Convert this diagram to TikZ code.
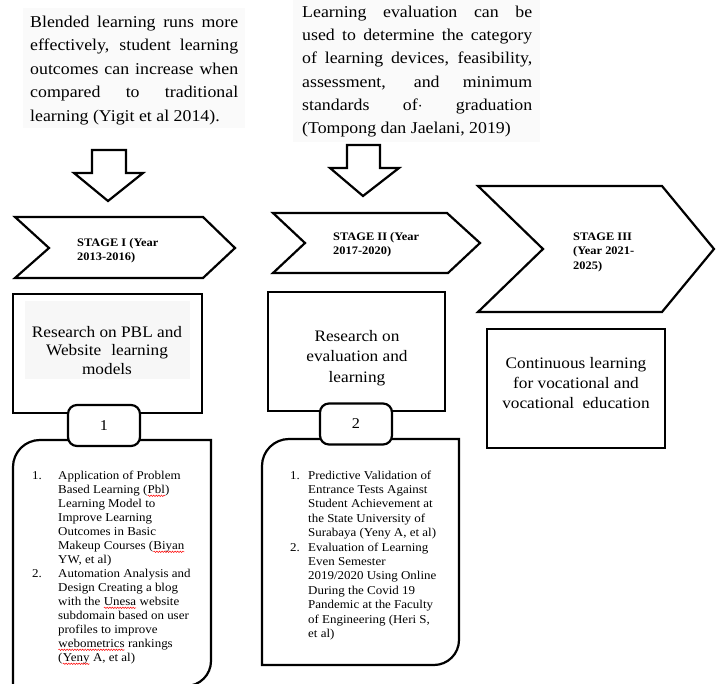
\documentclass[tikz,border=0pt]{standalone}
\usepackage{fontspec}
\setmainfont{Liberation Serif}[FakeStretch=1.08]
\usetikzlibrary{decorations.pathmorphing}
\newcommand\redsq[1]{\tikz[baseline=(w.base),x=1pt,y=1pt]{\node[inner sep=0pt,outer sep=0pt] (w) {#1};
  \draw[red, line width=0.5pt, decorate, decoration={snake, amplitude=0.7pt, segment length=2.6pt}]
    ([yshift=-2.6pt]w.base west) -- ([yshift=-2.6pt]w.base east);}}
\newcommand\indA{\hspace*{26pt}}
\newcommand\indB{\hspace*{18pt}}
\tikzset{
  shp/.style={draw=black, line width=2.2pt, line join=miter, fill=white},
  boxshape/.style={draw=black, line width=2.2pt, fill=white, inner sep=0pt},
  numbox/.style={draw=black, line width=2.2pt, fill=white, rounded corners=9pt,
    minimum width=72pt, minimum height=41pt, inner sep=0pt,
    font=\fontsize{15}{15}\selectfont},
  toptext/.style={inner sep=0pt, align=left},
  stagetxt/.style={inner sep=0pt, align=left, font=\bfseries\fontsize{11.5}{14.5}\selectfont},
  boxtext/.style={inner sep=0pt, align=center},
  listtext/.style={inner sep=0pt, align=left},
}
\begin{document}
\begin{tikzpicture}[x=1pt,y=-1pt]
\useasboundingbox (0,0) rectangle (716,684);
\fill[white] (0,0) rectangle (716,684);

% faint text backgrounds
\fill[black!2] (23,8) rectangle (245,128);
\fill[black!2] (293,0) rectangle (540,142);

% top texts
\node[toptext, anchor=north west, font=\fontsize{16.5}{23.5}\selectfont] (t1) at (30,15) {%
\rule{0pt}{12pt}\makebox[208pt][s]{Blended learning runs more}\\
\makebox[208pt][s]{effectively, student learning}\\
\makebox[208pt][s]{outcomes can increase when}\\
\makebox[208pt][s]{compared to traditional}\\
learning (Yigit et al 2014).};

\node[toptext, anchor=north west, font=\fontsize{16.5}{23.3}\selectfont] (t2) at (302,5) {%
\rule{0pt}{12pt}\makebox[230pt][s]{Learning evaluation can be}\\
\makebox[230pt][s]{used to determine the category}\\
\makebox[230pt][s]{of learning devices, feasibility,}\\
\makebox[230pt][s]{assessment, and minimum}\\
\makebox[230pt][s]{standards of$\cdot$ graduation}\\
(Tompong dan Jaelani, 2019)};

% block arrows
\draw[shp] (92,150) -- (126,150) -- (126,173) -- (143,173) -- (108,201) -- (74,173) -- (92,173) -- cycle;
\draw[shp] (347,145) -- (380,145) -- (380,168) -- (399,168) -- (363,196) -- (330,168) -- (347,168) -- cycle;

% chevrons
\draw[shp] (15,217) -- (203,217) -- (235,248) -- (203,278) -- (15,278) -- (49,248) -- cycle;
\draw[shp] (273,213) -- (447,213) -- (480,243) -- (448,273) -- (273,273) -- (305,243) -- cycle;
\draw[shp] (478,186) -- (662,186) -- (714,249) -- (662,312) -- (478,312) -- (543,249) -- cycle;

\node[stagetxt, anchor=north west] (s1) at (77,236) {\rule{0pt}{10pt}STAGE I (Year\\2013-2016)};
\node[stagetxt, anchor=north west] (s2) at (333,230) {\rule{0pt}{10pt}STAGE II (Year\\2017-2020)};
\node[stagetxt, anchor=north west] (s3) at (573,230) {\rule{0pt}{10pt}STAGE III\\(Year 2021-\\2025)};

% lower panels
\draw[shp] (13,690) -- (13,467) .. controls (13,452.1) and (25.1,440) .. (40,440)
  -- (211,440) -- (211,661) .. controls (211,674.8) and (199.8,686) .. (186,686) -- (13,686) -- cycle;
\draw[shp] (262,665) -- (262,466) .. controls (262,451.1) and (274.1,439) .. (289,439)
  -- (459,439) -- (459,640) .. controls (459,653.8) and (447.8,665) .. (434,665) -- cycle;

% main boxes
\node[boxshape, minimum width=189pt, minimum height=119pt] (b1) at (107.5,353.5) {};
\node[boxshape, minimum width=177pt, minimum height=119pt] (b2) at (356.5,351.5) {};
\node[boxshape, minimum width=178pt, minimum height=119pt] (b3) at (576,388.5) {};
\fill[black!3] (25,301) rectangle (190,379);

\node[boxtext, anchor=north, font=\fontsize{16}{18.5}\selectfont] (bt1) at (107,324) {%
\rule{0pt}{13pt}Research on PBL and\\Website\hspace{10pt}learning\\models};
\node[boxtext, anchor=north, font=\fontsize{16}{20.5}\selectfont] (bt2) at (357,328) {%
\rule{0pt}{13pt}Research on\\evaluation and\\learning};
\node[boxtext, anchor=north, font=\fontsize{16}{20}\selectfont] (bt3) at (576,355) {%
\rule{0pt}{13pt}Continuous learning\\for vocational and\\vocational\hspace{4pt} education};

% number tabs
\node[numbox] (n1) at (104,425.5) {1};
\node[numbox] (n2) at (356,424) {2};

% lists
\node[listtext, anchor=north west, font=\fontsize{12}{14}\selectfont] (l1) at (32,469) {%
\rule{0pt}{10pt}\makebox[26pt][l]{1.}Application of Problem\\
\indA Based Learning (\redsq{Pbl})\\
\indA Learning Model to\\
\indA Improve Learning\\
\indA Outcomes in Basic\\
\indA Makeup Courses (\redsq{Biyan}\\
\indA YW, et al)\\
\makebox[26pt][l]{2.}Automation Analysis and\\
\indA Design Creating a blog\\
\indA with the \redsq{Unesa} website\\
\indA subdomain based on user\\
\indA profiles to improve\\
\indA \redsq{webometrics} rankings\\
\indA (\redsq{Yeny} A, et al)};

\node[listtext, anchor=north west, font=\fontsize{12}{14.4}\selectfont] (l2) at (290,469) {%
\rule{0pt}{10pt}\makebox[18pt][l]{1.}Predictive Validation of\\
\indB Entrance Tests Against\\
\indB Student Achievement at\\
\indB the State University of\\
\indB Surabaya (Yeny A, et al)\\
\makebox[18pt][l]{2.}Evaluation of Learning\\
\indB Even Semester\\
\indB 2019/2020 Using Online\\
\indB During the Covid 19\\
\indB Pandemic at the Faculty\\
\indB of Engineering (Heri S,\\
\indB et al)};
\end{tikzpicture}
\end{document}
